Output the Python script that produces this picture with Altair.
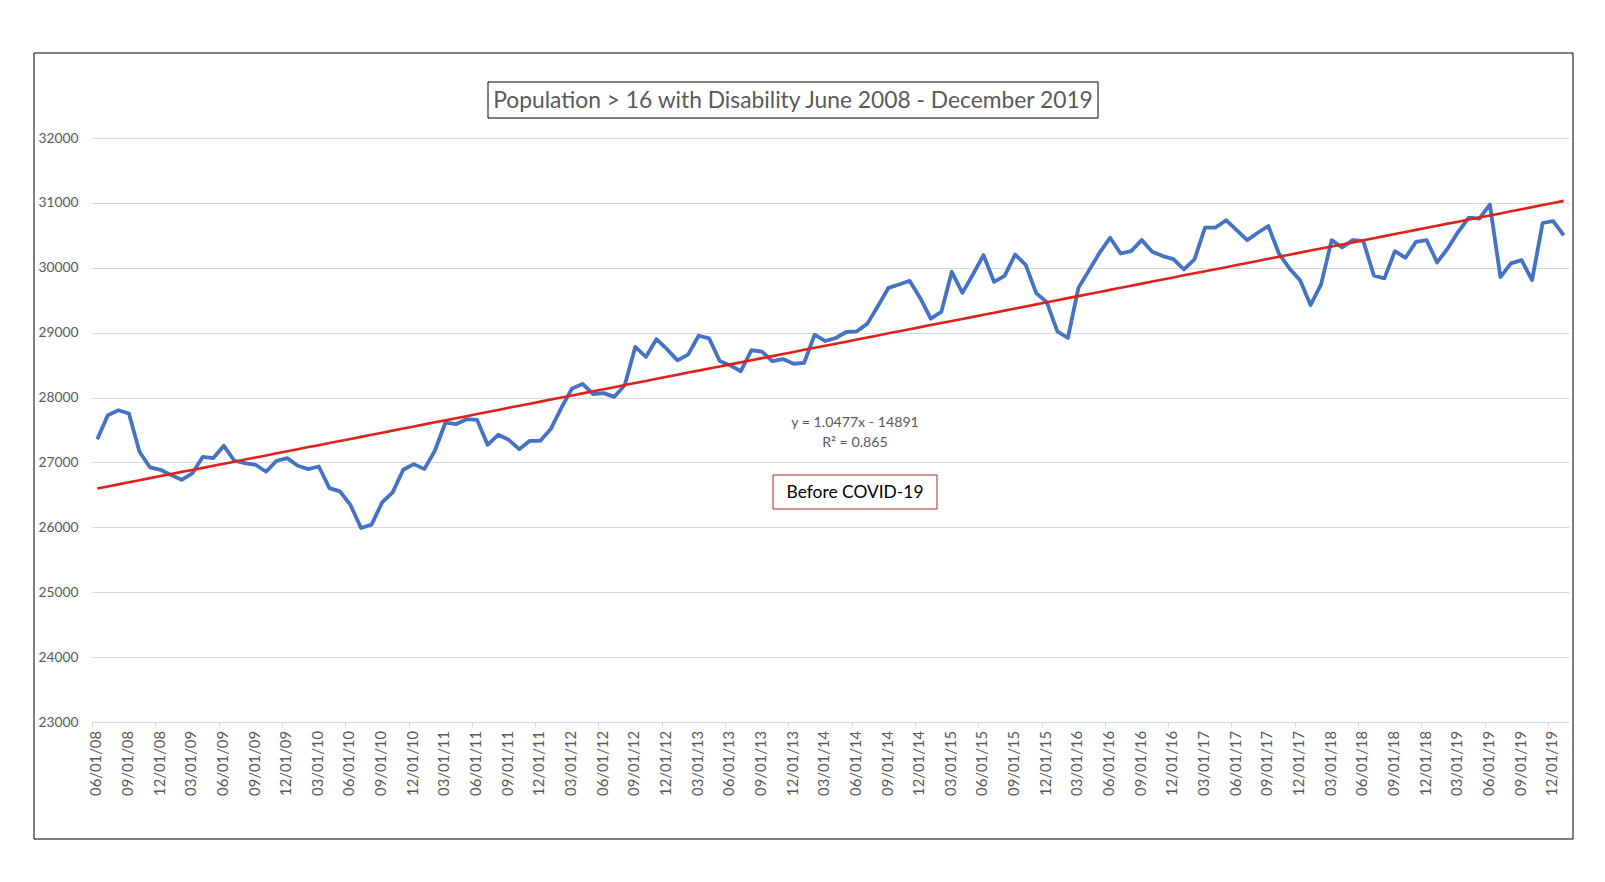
import altair as alt
import pandas as pd

# ---- data ----
DATES = pd.date_range("2008-06-01", periods=140, freq="MS")
VALUES = [
    27359, 27728, 27805, 27754, 27164, 26923, 26887, 26805, 26733, 26831,
    27087, 27067, 27256, 27026, 26990, 26964, 26856, 27026, 27067, 26949,
    26897, 26938, 26605, 26554, 26344, 25990, 26041, 26385, 26538, 26887,
    26974, 26897, 27180, 27615, 27590, 27667, 27656, 27272, 27426, 27349,
    27205, 27333, 27333, 27520, 27845, 28140, 28210, 28052, 28068, 28010,
    28193, 28781, 28625, 28901, 28745, 28573, 28661, 28953, 28911, 28563,
    28495, 28406, 28729, 28707, 28560, 28593, 28521, 28536, 28969, 28871,
    28918, 29010, 29021, 29139, 29412, 29691, 29742, 29799, 29536, 29216,
    29320, 29938, 29613, 29897, 30196, 29782, 29874, 30203, 30045, 29610,
    29470, 29020, 28918, 29690, 29960, 30230, 30462, 30220, 30256, 30426,
    30246, 30180, 30133, 29974, 30128, 30620, 30620, 30733, 30579, 30426,
    30540, 30644, 30220, 29990, 29810, 29426, 29744, 30426, 30313, 30426,
    30415, 29880, 29836, 30256, 30154, 30400, 30426, 30082, 30297, 30554,
    30774, 30759, 30974, 29857, 30067, 30118, 29810, 30690, 30720, 30500,
]
SLOPE = 1.0477
INTERCEPT = -14891
R2 = 0.865
TITLE = "Population > 16 with Disability June 2008 - December 2019"
NOTE = "Before COVID-19"
TICK_IDX = list(range(0, 139, 3))
TICK_LABELS = [DATES[i].strftime("%m/%d/%y") for i in TICK_IDX]
Y_TICKS = list(range(23000, 32001, 1000))

df = pd.DataFrame({
    "idx": list(range(len(VALUES))),
    "serial": [(d - pd.Timestamp("1899-12-30")).days for d in DATES],
    "value": VALUES,
})
ticks_df = pd.DataFrame({"idx": TICK_IDX, "label": TICK_LABELS})

FONT = "Lato"
GREY = "#595959"
W, H = 1477, 584
HALF = W / 140 / 2

x_scale = alt.Scale(domain=[-0.5, 139.5], nice=False, zero=False)
x_enc = alt.X(
    "idx:Q",
    scale=x_scale,
    axis=alt.Axis(
        values=TICK_IDX, labels=False, grid=False,
        domainColor="#d9d9d9", tickColor="#d9d9d9", tickSize=5,
        tickOffset=-HALF, title=None,
    ),
)
y_enc = alt.Y(
    "value:Q",
    scale=alt.Scale(domain=[23000, 32000], nice=False, zero=False),
    axis=alt.Axis(
        values=Y_TICKS, format="d", grid=True, gridColor="#d9d9d9", domain=False,
        ticks=False, labelPadding=14, labelColor=GREY, labelFontSize=13.8,
        labelFont=FONT, title=None,
    ),
)

base = alt.Chart(df)
blue = base.mark_line(color="#4472C4", strokeWidth=3.8, strokeJoin="round").encode(x=x_enc, y=y_enc)
red = base.transform_calculate(
    trend=f"{SLOPE}*datum.serial + ({INTERCEPT})"
).mark_line(color="#E0201B", strokeWidth=2.6).encode(x="idx:Q", y="trend:Q")

x_labels = alt.Chart(ticks_df).mark_text(
    angle=270, align="right", baseline="middle", font=FONT, fontSize=14.8, color=GREY
).encode(x=alt.X("idx:Q"), y=alt.value(H + 9), text="label:N")

one = alt.Chart(pd.DataFrame({"a": [0]}))
frame = one.mark_rect(fillOpacity=0, stroke="#000000", strokeWidth=1).encode(
    x=alt.value(-58), x2=alt.value(1481), y=alt.value(-85), y2=alt.value(701))
title_box = one.mark_rect(fillOpacity=0, stroke="#000000", strokeWidth=1).encode(
    x=alt.value(396), x2=alt.value(1006), y=alt.value(-56), y2=alt.value(-20))
title_text = one.mark_text(text=TITLE, font=FONT, fontSize=22.8, color=GREY,
                           align="center", baseline="middle").encode(
    x=alt.value(701), y=alt.value(-37))
eq_text = one.mark_text(text=f"y = {SLOPE}x - {abs(INTERCEPT)}", font=FONT, fontSize=14.2,
                        color=GREY, align="center", baseline="middle").encode(
    x=alt.value(763), y=alt.value(285))
r2_text = one.mark_text(text=f"R\u00b2 = {R2}", font=FONT, fontSize=14.2, color=GREY,
                        align="center", baseline="middle").encode(
    x=alt.value(763), y=alt.value(305))
note_box = one.mark_rect(fillOpacity=0, stroke="#B22222", strokeWidth=1).encode(
    x=alt.value(681), x2=alt.value(845), y=alt.value(337), y2=alt.value(371))
note_text = one.mark_text(text=NOTE, font=FONT, fontSize=17.4, color="#000000",
                          align="center", baseline="middle").encode(
    x=alt.value(763), y=alt.value(355))

chart = alt.layer(
    blue, red, x_labels, frame, title_box, title_text, eq_text, r2_text, note_box, note_text
).properties(
    width=W, height=H,
    padding={"left": 84, "top": 130, "right": 20, "bottom": 130},
    autosize=alt.AutoSizeParams(type="none"),
    background="white",
).configure_view(stroke="transparent")

chart.save("out.html", embed_options={"renderer": "svg", "actions": False})
